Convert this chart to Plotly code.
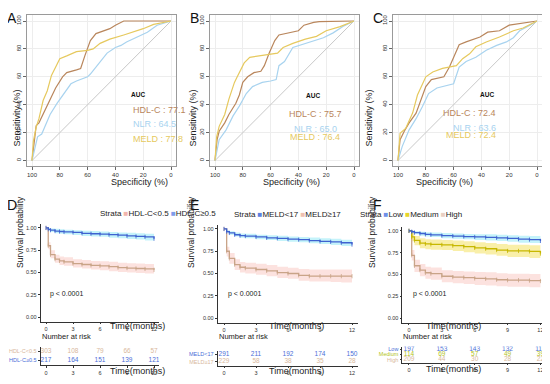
import plotly.graph_objects as go

# The page body has an 8px default margin, so the figure is drawn 8px in from
# the top-left corner of the 550x384 window; coordinates below are window pixels.
OFF = 8
W, H = 550 - OFF, 384 - OFF
FONT = "Liberation Sans, Arial, sans-serif"


def dx(a, b):
    return [(a - OFF) / W, (b - OFF) / W]


def dy(top, bot):
    return [1 - (bot - OFF) / H, 1 - (top - OFF) / H]


def PX(x):
    return (x - OFF) / W


def PY(y):
    return 1 - (y - OFF) / H


# ---------------- ROC data (specificity %, sensitivity %) ----------------
A_hdl_spec = [100, 98.8, 97, 95, 92, 89.5, 86, 83, 78, 75, 68, 65, 62, 58, 54, 48, 44, 40, 34, 0]
A_hdl_sens = [0, 10, 25, 27, 33, 38, 45, 52, 60, 63, 65, 66, 75, 86, 91, 93, 94.5, 97, 100, 100]
A_nlr_spec = [100, 96, 93, 87, 82, 77, 72, 68, 60, 58, 54, 51, 46, 40, 36, 32, 24, 17, 10, 3, 0]
A_nlr_sens = [0, 17, 19, 33, 41, 48, 55, 57, 60, 62, 67, 71, 77, 81, 82.5, 85, 88.5, 92, 97, 99, 100]
A_meld_spec = [100, 99, 97, 95, 92, 89, 86, 83, 80, 75, 68, 60, 56, 51, 44, 34, 27, 20, 12.5, 8, 0]
A_meld_sens = [0, 14, 24, 30, 43, 50, 61, 67, 73, 75, 78, 79, 80, 84, 87, 90, 92, 94.5, 97.6, 98.5, 100]

B_hdl_spec = [100, 98.5, 97, 93, 90, 85, 82.5, 80, 76.5, 72, 67, 64.5, 61, 57, 54, 46, 40, 36, 29, 25, 0]
B_hdl_sens = [0, 15, 21, 27, 33, 41, 47, 56, 60, 63, 64, 68, 77, 86, 90, 92, 93, 97, 99, 99.5, 100]
B_nlr_spec = [100, 97, 92, 87, 82.5, 77.5, 73, 66, 60, 56, 54, 50, 44, 38, 29, 22, 15, 8, 0]
B_nlr_sens = [0, 15, 22, 32, 39, 48, 53, 56, 57, 58, 68, 71, 81, 83, 86, 88, 91.5, 96, 100]
B_meld_spec = [100, 98.8, 97, 93, 90, 86, 84, 79, 75, 68, 55, 51, 44, 35, 27, 20, 10, 0]
B_meld_sens = [0, 17, 24.5, 33, 44, 56, 60, 70, 74, 75, 77, 81, 84, 87, 89, 93, 96, 100]

C_hdl_spec = [100, 98.5, 95.5, 92, 87, 83.5, 80, 76, 70, 67, 63, 59.5, 56, 51, 46, 41, 35.5, 27, 20, 12.5, 0]
C_hdl_sens = [0, 15, 21, 27, 34, 43, 53, 58, 59, 60, 67, 75, 83, 85, 87, 88.5, 92, 93, 97, 98, 100]
C_nlr_spec = [100, 97, 92, 87, 82.5, 78, 72, 63, 60, 56, 51, 44, 36.5, 29, 22, 17, 12.5, 5, 0]
C_nlr_sens = [0, 10, 22, 30, 38.5, 48, 52, 54, 55, 67, 71, 74, 79, 82.5, 85, 88, 93, 97, 100]
C_meld_spec = [100, 98.5, 94.5, 89.5, 86, 83.5, 80, 75, 68, 58, 53.5, 48.5, 44, 36.5, 27, 17, 10, 0]
C_meld_sens = [0, 19.5, 23, 34, 47, 53, 60, 63.5, 66, 68, 73, 76.5, 81.5, 85, 88.5, 93, 95, 100]

roc_markers = ["HDL-C", "NLR", "MELD"]
A_auc = [77.1, 64.5, 77.8]
B_auc = [75.7, 65.0, 76.4]
C_auc = [72.4, 63.6, 72.4]
roc_ticks = [0, 20, 40, 60, 80, 100]

# ---------------- Kaplan-Meier data ----------------
km_time = [0, 0.25, 0.5, 1, 1.5, 2, 3, 4, 5, 6, 7, 8, 9, 10, 11, 12]

D_low_surv = [1.0, 0.80, 0.70, 0.65, 0.63, 0.62, 0.60, 0.59, 0.58, 0.575, 0.565, 0.555, 0.55, 0.545, 0.54, 0.53]
D_low_lo = [1.0, 0.76, 0.66, 0.61, 0.585, 0.575, 0.555, 0.545, 0.535, 0.525, 0.515, 0.505, 0.50, 0.495, 0.49, 0.475]
D_low_hi = [1.0, 0.84, 0.75, 0.70, 0.68, 0.67, 0.65, 0.64, 0.63, 0.625, 0.62, 0.61, 0.605, 0.60, 0.595, 0.59]
D_high_surv = [1.0, 0.985, 0.975, 0.965, 0.96, 0.955, 0.95, 0.94, 0.935, 0.93, 0.925, 0.92, 0.91, 0.905, 0.90, 0.88]
D_high_lo = [1.0, 0.97, 0.955, 0.94, 0.935, 0.93, 0.92, 0.91, 0.905, 0.90, 0.89, 0.885, 0.875, 0.87, 0.86, 0.84]
D_high_hi = [1.0, 1.0, 0.995, 0.99, 0.985, 0.98, 0.975, 0.97, 0.965, 0.96, 0.955, 0.95, 0.945, 0.94, 0.935, 0.92]

E_low_surv = [1.0, 0.97, 0.955, 0.935, 0.925, 0.92, 0.91, 0.90, 0.895, 0.885, 0.88, 0.87, 0.86, 0.855, 0.845, 0.825]
E_low_lo = [1.0, 0.955, 0.935, 0.915, 0.90, 0.895, 0.885, 0.875, 0.865, 0.855, 0.85, 0.84, 0.83, 0.82, 0.81, 0.79]
E_low_hi = [1.0, 0.985, 0.975, 0.96, 0.95, 0.945, 0.935, 0.93, 0.925, 0.915, 0.91, 0.905, 0.895, 0.89, 0.88, 0.865]
E_high_surv = [1.0, 0.75, 0.67, 0.60, 0.57, 0.56, 0.545, 0.53, 0.51, 0.50, 0.48, 0.47, 0.47, 0.47, 0.47, 0.47]
E_high_lo = [1.0, 0.69, 0.61, 0.54, 0.51, 0.50, 0.485, 0.47, 0.45, 0.44, 0.42, 0.41, 0.41, 0.405, 0.40, 0.395]
E_high_hi = [1.0, 0.80, 0.73, 0.66, 0.63, 0.62, 0.61, 0.595, 0.575, 0.565, 0.55, 0.545, 0.545, 0.545, 0.545, 0.545]

F_low_surv = [1.0, 0.99, 0.98, 0.97, 0.96, 0.955, 0.945, 0.94, 0.935, 0.93, 0.925, 0.92, 0.915, 0.905, 0.90, 0.885]
F_low_lo = [1.0, 0.975, 0.96, 0.945, 0.935, 0.93, 0.915, 0.91, 0.905, 0.895, 0.89, 0.885, 0.875, 0.865, 0.86, 0.84]
F_low_hi = [1.0, 1.0, 0.995, 0.99, 0.985, 0.98, 0.975, 0.97, 0.965, 0.96, 0.96, 0.955, 0.95, 0.945, 0.94, 0.93]
F_med_surv = [1.0, 0.93, 0.89, 0.86, 0.85, 0.845, 0.84, 0.83, 0.82, 0.805, 0.795, 0.78, 0.77, 0.77, 0.765, 0.74]
F_med_lo = [1.0, 0.88, 0.835, 0.80, 0.79, 0.785, 0.78, 0.77, 0.755, 0.74, 0.73, 0.715, 0.70, 0.70, 0.69, 0.66]
F_med_hi = [1.0, 0.975, 0.94, 0.915, 0.905, 0.90, 0.895, 0.89, 0.88, 0.87, 0.86, 0.85, 0.84, 0.84, 0.835, 0.815]
F_high_surv = [1.0, 0.72, 0.60, 0.55, 0.52, 0.51, 0.48, 0.47, 0.465, 0.455, 0.45, 0.44, 0.435, 0.435, 0.43, 0.425]
F_high_lo = [1.0, 0.66, 0.53, 0.48, 0.45, 0.44, 0.41, 0.40, 0.39, 0.38, 0.375, 0.365, 0.36, 0.36, 0.355, 0.35]
F_high_hi = [1.0, 0.78, 0.67, 0.62, 0.59, 0.58, 0.55, 0.54, 0.535, 0.53, 0.525, 0.515, 0.51, 0.51, 0.505, 0.50]

risk_time = [0, 3, 6, 9, 12]
D_groups = ["HDL-C<0.5", "HDL-C≥0.5"]
D_risk_low = [303, 108, 79, 66, 57]
D_risk_high = [217, 164, 151, 139, 121]
E_groups = ["MELD<17", "MELD≥17"]
E_risk_low = [291, 211, 192, 174, 150]
E_risk_high = [229, 58, 38, 35, 28]
F_groups = ["Low", "Medium", "High"]
F_risk_low = [197, 153, 143, 132, 116]
F_risk_med = [114, 69, 57, 49, 39]
F_risk_high = [209, 44, 30, 28, 22]

# ---------------- colours ----------------
C_HDL = "#B9865C"
C_NLR = "#A8D3EF"
C_MELD = "#E6C95E"
C_BLUE = "#3F62D0"
C_BLUE_FILL = "rgba(60,215,240,0.30)"
C_TAN = "#C9A488"
C_TAN_FILL = "rgba(245,160,150,0.30)"
C_YEL = "#C7B800"
C_YEL_FILL = "rgba(240,215,40,0.40)"
C_TAN_TXT = "#D8B89C"
C_BLUE_TXT = "#4A6ED8"
C_YEL_TXT = "#B2C31A"

fig = go.Figure()
layout = dict(
    width=W, height=H, margin=dict(l=0, r=0, t=0, b=0),
    paper_bgcolor="white", plot_bgcolor="white", showlegend=False,
    font=dict(family=FONT, color="#222"),
)
annotations = []

# ---------------- ROC panels ----------------
roc_panels = [
    (1, (27, 176), "A", 5,
     [(A_hdl_spec, A_hdl_sens, C_HDL), (A_nlr_spec, A_nlr_sens, C_NLR), (A_meld_spec, A_meld_sens, C_MELD)],
     A_auc, [89, 103, 117, 132], 131),
    (2, (210, 359), "B", 188,
     [(B_hdl_spec, B_hdl_sens, C_HDL), (B_nlr_spec, B_nlr_sens, C_NLR), (B_meld_spec, B_meld_sens, C_MELD)],
     B_auc, [90, 107, 122, 137], 315),
    (3, (393, 542), "C", 371,
     [(C_hdl_spec, C_hdl_sens, C_HDL), (C_nlr_spec, C_nlr_sens, C_NLR), (C_meld_spec, C_meld_sens, C_MELD)],
     C_auc, [89, 106, 121, 135], 498),
]
roc_cols = [C_HDL, C_NLR, C_MELD]
for i, (xl, xr), letter, lx, series, aucs, ys, tx in roc_panels:
    xa, ya = f"x{i}", f"y{i}"
    fig.add_trace(go.Scatter(x=[100, 0], y=[0, 100], mode="lines", xaxis=xa, yaxis=ya,
                             line=dict(color="#C8C8C8", width=1)))
    for sx, sy, col in series:
        fig.add_trace(go.Scatter(x=sx, y=sy, mode="lines", xaxis=xa, yaxis=ya,
                                 line=dict(color=col, width=1.2)))
    ax = dict(domain=dx(xl, xr), anchor=ya, range=[103.6, -3.6], tickmode="array",
              tickvals=roc_ticks, ticks="outside", ticklen=3, tickcolor="#666",
              tickfont=dict(size=6, color="#333"), showline=True, mirror=True,
              linecolor="#9A9A9A", linewidth=1, showgrid=True, gridcolor="#EDEDED",
              gridwidth=0.6, zeroline=False)
    ayx = dict(domain=dy(15, 166), anchor=xa, range=[-3.9, 104.3], tickmode="array",
               tickvals=roc_ticks, ticks="outside", ticklen=3, tickcolor="#666", tickangle=-90,
               tickfont=dict(size=6, color="#333"), showline=True, mirror=True,
               linecolor="#9A9A9A", linewidth=1, showgrid=True, gridcolor="#EDEDED",
               gridwidth=0.6, zeroline=False)
    layout["xaxis" if i == 1 else f"xaxis{i}"] = ax
    layout["yaxis" if i == 1 else f"yaxis{i}"] = ayx
    annotations.append(dict(text=letter, x=PX(lx), y=PY(OFF), xref="paper", yref="paper",
                            xanchor="left", yanchor="top", showarrow=False,
                            font=dict(size=14, color="#111")))
    annotations.append(dict(text="Specificity (%)", x=PX((xl + xr) / 2 + 7), y=PY(182),
                            xref="paper", yref="paper", showarrow=False,
                            font=dict(size=9, color="#222")))
    annotations.append(dict(text="Sensitivity (%)", x=PX(xl - 17), y=PY(88), textangle=-90,
                            xref="paper", yref="paper", showarrow=False,
                            font=dict(size=9, color="#222")))
    annotations.append(dict(text="<b>AUC</b>", x=PX(tx - 2), y=PY(ys[0]), xref="paper",
                            yref="paper", showarrow=False, font=dict(size=6.5, color="#111")))
    for k in range(3):
        annotations.append(dict(text=f"{roc_markers[k]} : {aucs[k]:.1f}", x=PX(tx), y=PY(ys[k + 1]),
                                xref="paper", yref="paper", showarrow=False,
                                font=dict(size=9, color=roc_cols[k])))

# ---------------- KM panels ----------------
km_panels = [
    (4, 7, (40.6, 159.4), (223.5, 321.5), "D", 5,
     [(D_low_surv, D_low_lo, D_low_hi, C_TAN, C_TAN_FILL),
      (D_high_surv, D_high_lo, D_high_hi, C_BLUE, C_BLUE_FILL)],
     (347, 365), [(D_groups[0], D_risk_low, C_TAN_TXT), (D_groups[1], D_risk_high, C_BLUE_TXT)],
     98, 213, 13, 48, 378),
    (5, 8, (217.6, 358.4), (224.5, 322.5), "E", 188,
     [(E_high_surv, E_high_lo, E_high_hi, C_TAN, C_TAN_FILL),
      (E_low_surv, E_low_lo, E_low_hi, C_BLUE, C_BLUE_FILL)],
     (350.5, 365.5), [(E_groups[0], E_risk_low, C_BLUE_TXT), (E_groups[1], E_risk_high, C_TAN_TXT)],
     287, 214, 191, 226, 378),
    (6, 9, (402.4, 547), (226.5, 322.5), "F", 371,
     [(F_high_surv, F_high_lo, F_high_hi, C_TAN, C_TAN_FILL),
      (F_med_surv, F_med_lo, F_med_hi, C_YEL, C_YEL_FILL),
      (F_low_surv, F_low_lo, F_low_hi, C_BLUE, C_BLUE_FILL)],
     (346.5, 362.5), [(F_groups[0], F_risk_low, C_BLUE_TXT), (F_groups[1], F_risk_med, C_YEL_TXT),
                      (F_groups[2], F_risk_high, C_TAN_TXT)],
     464, 215, 379, 411, 376),
]

legend_texts = {
    4: ('Strata <span style="color:#F2B5AC">■</span>HDL-C&lt;0.5 '
        '<span style="color:#7E9CEB">■</span>HDL-C≥0.5'),
    5: ('Strata <span style="color:#5C7FE0">■</span>MELD&lt;17 '
        '<span style="color:#EFC0B0">■</span>MELD≥17'),
    6: ('Strata <span style="color:#6E8FE8">■</span>Low '
        '<span style="color:#E6D52A">■</span>Medium '
        '<span style="color:#E9CFC2">■</span>High'),
}

for (i, r, (xl, xr), (yt, yb), letter, lx, curves, (rt, rb), rows,
     legx, legy, ytx, px_, ttl_y) in km_panels:
    xa, ya = f"x{i}", f"y{i}"
    for surv, lo, hi, col, fill in curves:
        fig.add_trace(go.Scatter(x=km_time, y=hi, mode="lines", xaxis=xa, yaxis=ya,
                                 line=dict(width=0, shape="hv"), hoverinfo="skip"))
        fig.add_trace(go.Scatter(x=km_time, y=lo, mode="lines", xaxis=xa, yaxis=ya,
                                 line=dict(width=0, shape="hv"), fill="tonexty",
                                 fillcolor=fill, hoverinfo="skip"))
    for surv, lo, hi, col, fill in curves:
        fig.add_trace(go.Scatter(x=km_time, y=surv, mode="lines+markers", xaxis=xa, yaxis=ya,
                                 line=dict(color=col, width=1.3, shape="hv"),
                                 marker=dict(symbol="line-ns", size=3,
                                             line=dict(color=col, width=0.8))))
    layout[f"xaxis{i}"] = dict(domain=dx(xl, xr), anchor=ya, range=[-0.6, 12.6],
                               tickmode="array", tickvals=risk_time, ticks="outside",
                               ticklen=2, tickcolor="#333", tickfont=dict(size=5.5, color="#333"),
                               showline=True, linecolor="#333", linewidth=0.8,
                               showgrid=False, zeroline=False)
    layout[f"yaxis{i}"] = dict(domain=dy(yt, yb), anchor=xa, range=[-0.05, 1.05],
                               tickmode="array", tickvals=[0, 0.25, 0.5, 0.75, 1.0],
                               ticktext=["0.00", "0.25", "0.50", "0.75", "1.00"],
                               ticks="outside", ticklen=2, tickcolor="#333",
                               tickfont=dict(size=5.5, color="#333"),
                               showline=True, linecolor="#333", linewidth=0.8,
                               showgrid=False, zeroline=False)
    # risk table
    rxa, rya = f"x{r}", f"y{r}"
    n = len(rows)
    tickvals = []
    ticktext = []
    for k, (name, vals, col) in enumerate(rows):
        yv = n - k
        fig.add_trace(go.Scatter(x=risk_time, y=[yv] * len(vals), mode="text",
                                 text=[str(v) for v in vals], xaxis=rxa, yaxis=rya,
                                 textfont=dict(size=6.5, color=col, family=FONT),
                                 hoverinfo="skip"))
        tickvals.append(yv)
        ticktext.append(f'<span style="color:{col}">{name.replace("<", "&lt;")}</span>')
    layout[f"xaxis{r}"] = dict(domain=dx(xl, xr), anchor=rya, range=[-0.6, 12.6],
                               tickmode="array", tickvals=risk_time, ticks="outside",
                               ticklen=2, tickcolor="#333", tickfont=dict(size=5.5, color="#333"),
                               ticklabelstandoff=0,
                               showline=True, linecolor="#333", linewidth=0.8,
                               showgrid=False, zeroline=False)
    layout[f"yaxis{r}"] = dict(domain=dy(rt, rb), anchor=rxa, range=[0.5, n + 0.5],
                               tickmode="array", tickvals=tickvals, ticktext=ticktext,
                               ticks="outside", ticklen=2, tickcolor="#333",
                               tickfont=dict(size=5.5),
                               showline=True, linecolor="#333", linewidth=0.8,
                               showgrid=False, zeroline=False)
    # texts
    annotations.append(dict(text=letter, x=PX(lx), y=PY(205), xref="paper", yref="paper",
                            xanchor="left", yanchor="middle", showarrow=False,
                            font=dict(size=14, color="#111")))
    annotations.append(dict(text=legend_texts[i], x=PX(legx), y=PY(legy), xref="paper",
                            yref="paper", showarrow=False, font=dict(size=8, color="#222")))
    annotations.append(dict(text="Survival probability", x=PX(ytx), y=PY(270), textangle=-90,
                            xref="paper", yref="paper", showarrow=False,
                            font=dict(size=8.5, color="#222")))
    annotations.append(dict(text="p &lt; 0.0001", x=PX(px_), y=PY(299.5), xref="paper",
                            yref="paper", xanchor="left", showarrow=False,
                            font=dict(size=7, color="#222")))
    annotations.append(dict(text="Time(months)", x=PX((xl + xr) / 2 + 8), y=PY(333),
                            xref="paper", yref="paper", showarrow=False,
                            font=dict(size=9, color="#222")))
    annotations.append(dict(text="Number at risk", x=PX(xl - 1), y=PY(342.5), xref="paper",
                            yref="paper", xanchor="left", showarrow=False,
                            font=dict(size=7.5, color="#222")))
    annotations.append(dict(text="Time(months)", x=PX((xl + xr) / 2 + 8), y=PY(ttl_y),
                            xref="paper", yref="paper", showarrow=False,
                            font=dict(size=9, color="#222")))

layout["annotations"] = annotations
fig.update_layout(**layout)
fig.write_html("out.html")
